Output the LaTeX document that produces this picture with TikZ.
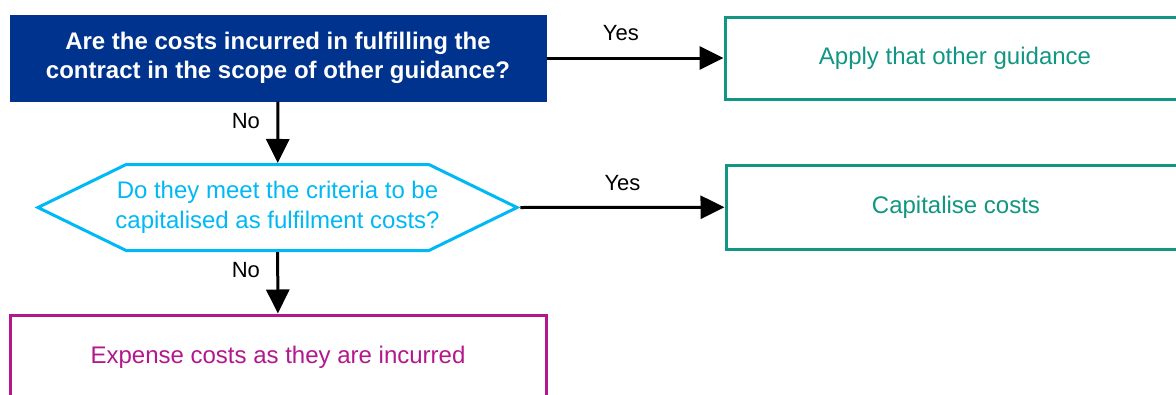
\documentclass[tikz,border=0pt]{standalone}
\usepackage{fontspec}
\setmainfont{Liberation Sans}
\usetikzlibrary{shapes.symbols,arrows.meta}

\definecolor{kblue}{RGB}{0,51,141}
\definecolor{kcyan}{RGB}{0,184,245}
\definecolor{kteal}{RGB}{16,150,130}
\definecolor{kpurple}{RGB}{178,24,140}

\begin{document}
\begin{tikzpicture}[x=1pt,y=-1pt,
  txt/.style={font=\fontsize{24}{30}\selectfont, align=center},
  question/.style={draw=kblue, fill=kblue, text=white, line width=1pt,
    font=\bfseries\fontsize{24}{29.5}\selectfont, align=center,
    minimum width=536pt, minimum height=86pt},
  decision/.style={txt, draw=kcyan, text=kcyan, line width=3pt,
    signal, signal to=west and east, signal pointer angle=52,
    inner xsep=-10.7pt, minimum height=86pt},
  outcome/.style={txt, draw=#1, text=#1, line width=3pt},
  flow/.style={line width=3pt, -{Triangle[length=24pt,width=23pt]}},
  lbl/.style={font=\fontsize{22}{26}\selectfont}]
  \useasboundingbox (0,0) rectangle (1176,394);
  \clip (0,0) rectangle (1176,394);

  % questions
  \node[question] (q1) at (278,58) {Are the costs incurred in fulfilling the\\contract in the scope of other guidance?};
  \node[decision] (q2) at (277.5,207.5) {Do they meet the criteria to be\\capitalised as fulfilment costs?};

  % outcomes
  \node[outcome=kteal, minimum width=460pt, minimum height=82pt] (other) at (955,58) {Apply that other guidance};
  \node[outcome=kteal, minimum width=460pt, minimum height=84pt] (capital) at (956,207) {Capitalise costs};
  \node[outcome=kpurple, minimum width=536pt, minimum height=84pt] (expense) at (278,357) {Expense costs as they are incurred};

  % connectors
  \draw[flow] (q1) -- (other) node[lbl, pos=0.42, above=12pt] {Yes};
  \draw[flow] (q1) -- (q2) node[lbl, pos=0.32, left=13pt] {No};
  \draw[flow] (q2.east) -- (capital) node[lbl, midway, above=12pt] {Yes};
  \draw[flow] (q2) -- (expense) node[lbl, pos=0.3, left=13pt] {No};
\end{tikzpicture}
\end{document}
